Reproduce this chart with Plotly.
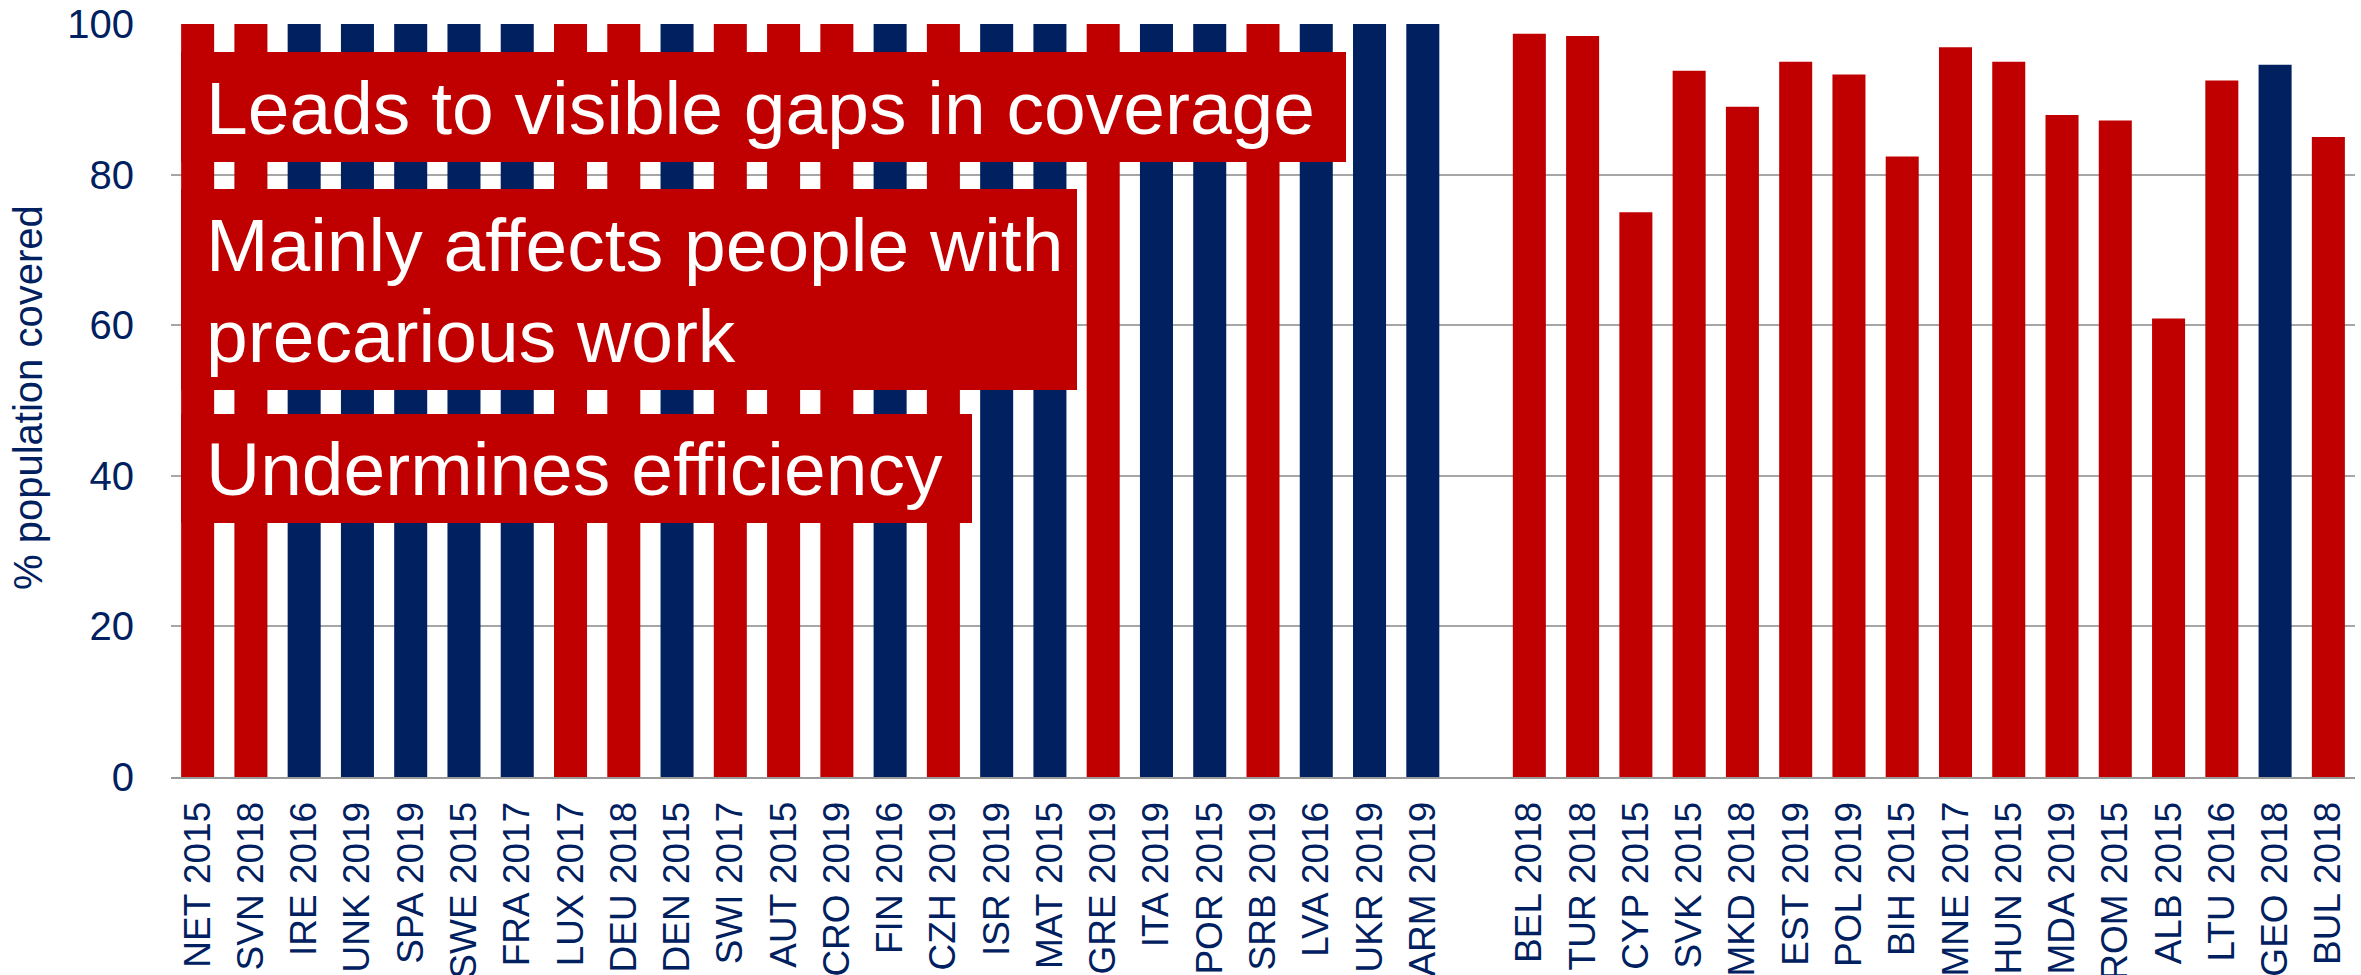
import plotly.graph_objects as go

# Population coverage by country and survey year
countries = [
    "NET 2015", "SVN 2018", "IRE 2016", "UNK 2019", "SPA 2019", "SWE 2015",
    "FRA 2017", "LUX 2017", "DEU 2018", "DEN 2015", "SWI 2017", "AUT 2015",
    "CRO 2019", "FIN 2016", "CZH 2019", "ISR 2019", "MAT 2015", "GRE 2019",
    "ITA 2019", "POR 2015", "SRB 2019", "LVA 2016", "UKR 2019", "ARM 2019",
    " ",
    "BEL 2018", "TUR 2018", "CYP 2015", "SVK 2015", "MKD 2018", "EST 2019",
    "POL 2019", "BIH 2015", "MNE 2017", "HUN 2015", "MDA 2019", "ROM 2015",
    "ALB 2015", "LTU 2016", "GEO 2018", "BUL 2018",
]
coverage = [
    100, 100, 100, 100, 100, 100,
    100, 100, 100, 100, 100, 100,
    100, 100, 100, 100, 100, 100,
    100, 100, 100, 100, 100, 100,
    None,
    98.7, 98.4, 75.0, 93.8, 89.0, 95.0,
    93.3, 82.4, 96.9, 95.0, 87.9, 87.2,
    60.9, 92.5, 94.6, 85.0,
]
# "R" = red group, "B" = blue group
group = [
    "R", "R", "B", "B", "B", "B",
    "B", "R", "R", "B", "R", "R",
    "R", "B", "R", "B", "B", "R",
    "B", "B", "R", "B", "B", "B",
    "",
    "R", "R", "R", "R", "R", "R",
    "R", "R", "R", "R", "R", "R",
    "R", "R", "B", "R",
]
callouts = [
    ["Leads to visible gaps in coverage"],
    ["Mainly affects people with", "precarious work"],
    ["Undermines efficiency"],
]

RED = "#C00000"
NAVY = "#002060"
palette = {"R": RED, "B": NAVY, "": "rgba(0,0,0,0)"}

W, H = 2361, 975
L, R, T, B = 171, 6, 24, 198
PW, PH = W - L - R, H - T - B


def px(x):
    return (x - L) / PW


def py(y):
    return (H - B - y) / PH


fig = go.Figure(
    go.Bar(
        x=countries,
        y=coverage,
        marker=dict(color=[palette[g] for g in group], line=dict(width=0)),
        hoverinfo="x+y",
    )
)

# Callout boxes (pixel extents) and the centre line of each text row
boxes = [(181, 1346, 52, 162), (181, 1077, 189, 390), (181, 972, 414, 523)]
rows = [[108], [245, 336], [469]]

shapes = []
annotations = []
for (x0, x1, y0, y1), lines, ys in zip(boxes, callouts, rows):
    shapes.append(dict(
        type="rect", xref="paper", yref="paper",
        x0=px(x0), x1=px(x1), y0=py(y1), y1=py(y0),
        fillcolor=RED, line=dict(width=0), layer="above",
    ))
    for text, yc in zip(lines, ys):
        annotations.append(dict(
            text=text, xref="paper", yref="paper",
            x=px(204), y=py(yc), xanchor="left", yanchor="middle",
            showarrow=False,
            font=dict(family="Arial, Liberation Sans, sans-serif", size=75, color="white"),
        ))

annotations.append(dict(
    text="% population covered", xref="paper", yref="paper",
    x=px(28), y=py(398), xanchor="center", yanchor="middle", textangle=-90,
    showarrow=False,
    font=dict(family="Arial, Liberation Sans, sans-serif", size=40, color=NAVY),
))

fig.update_layout(
    width=W, height=H,
    margin=dict(l=L, r=R, t=T, b=B, pad=0),
    paper_bgcolor="white", plot_bgcolor="white",
    bargap=0.38,
    showlegend=False,
    shapes=shapes,
    annotations=annotations,
    font=dict(family="Arial, Liberation Sans, sans-serif", color=NAVY),
    xaxis=dict(
        type="category",
        tickangle=-90,
        tickfont=dict(size=37, color=NAVY),
        showgrid=False,
        showline=True, linecolor="#999999", linewidth=2,
        ticks="", ticklabelstandoff=8,
        automargin=False,
    ),
    yaxis=dict(
        range=[0, 100], dtick=20,
        tickfont=dict(size=40, color=NAVY),
        showgrid=True, gridcolor="#A6A6A6", gridwidth=2,
        zeroline=False, showline=False,
        ticks="", ticklabelstandoff=36,
        automargin=False,
    ),
)

fig.write_html("out.html")
